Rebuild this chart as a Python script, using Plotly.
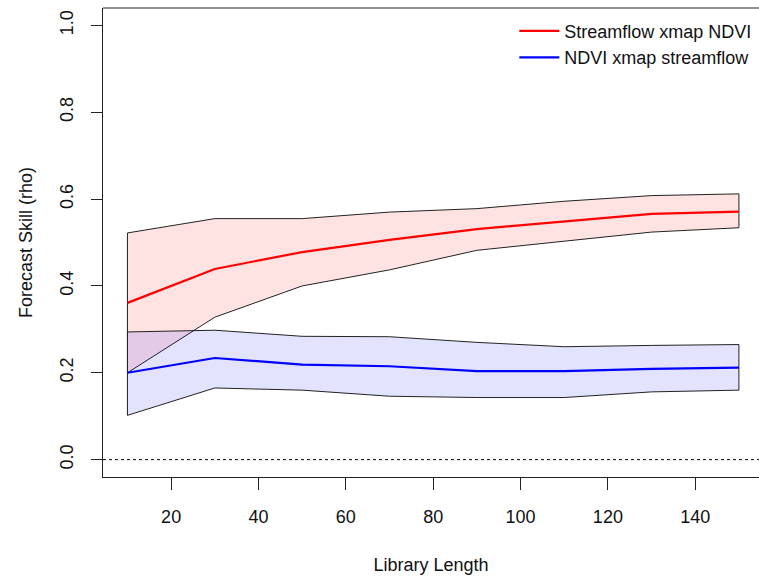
import plotly.graph_objects as go

lib_size = [10, 30, 50, 70, 90, 110, 130, 150]
sf_mean = [0.361, 0.439, 0.478, 0.506, 0.531, 0.549, 0.566, 0.571]
sf_upper = [0.522, 0.555, 0.555, 0.570, 0.578, 0.595, 0.608, 0.612]
sf_lower = [0.200, 0.328, 0.400, 0.437, 0.482, 0.503, 0.524, 0.534]
nd_mean = [0.200, 0.234, 0.219, 0.215, 0.204, 0.204, 0.209, 0.212]
nd_upper = [0.294, 0.298, 0.284, 0.283, 0.270, 0.260, 0.263, 0.265]
nd_lower = [0.102, 0.165, 0.160, 0.146, 0.143, 0.143, 0.156, 0.160]

x_ticks = [20, 40, 60, 80, 100, 120, 140]
y_ticks = [0.0, 0.2, 0.4, 0.6, 0.8, 1.0]
y_labels = ["0.0", "0.2", "0.4", "0.6", "0.8", "1.0"]

FONT = "Liberation Sans, Arial, sans-serif"


def band(upper, lower):
    xs = lib_size + lib_size[::-1] + [lib_size[0]]
    ys = upper + lower[::-1] + [upper[0]]
    return xs, ys


fig = go.Figure()
for up, lo, fc in [(sf_upper, sf_lower, "rgba(255,0,0,0.11)"),
                   (nd_upper, nd_lower, "rgba(0,0,255,0.11)")]:
    bx, by = band(up, lo)
    fig.add_trace(go.Scatter(x=bx, y=by, mode="lines", fill="toself",
                             fillcolor=fc, line=dict(color="#222222", width=1),
                             showlegend=False, hoverinfo="skip"))

fig.add_trace(go.Scatter(x=lib_size, y=sf_mean, mode="lines",
                         name="Streamflow xmap NDVI",
                         line=dict(color="#ff0000", width=2.2)))
fig.add_trace(go.Scatter(x=lib_size, y=nd_mean, mode="lines",
                         name="NDVI xmap streamflow",
                         line=dict(color="#0000ff", width=2.2)))

# dotted zero line
fig.add_shape(type="line", xref="paper", yref="y", x0=0, x1=1, y0=0, y1=0,
              line=dict(color="black", width=1, dash="dot"))
# top border of the box
fig.add_shape(type="line", xref="paper", yref="paper", x0=0, x1=1, y0=1, y1=1,
              line=dict(color="#222222", width=1))

fig.update_layout(
    width=759, height=580,
    margin=dict(l=103, r=0, t=8, b=103),
    paper_bgcolor="white", plot_bgcolor="white",
    font=dict(family=FONT, size=18, color="#111111"),
    showlegend=True,
    legend=dict(x=0.627, y=0.99, xanchor="left", yanchor="top",
                bgcolor="rgba(0,0,0,0)", font=dict(size=18),
                itemwidth=40, tracegroupgap=0),
    xaxis=dict(range=[4.4, 154.6], tickvals=x_ticks, ticks="outside",
               ticklen=12, tickcolor="#222222", showgrid=False,
               zeroline=False, showline=True, linecolor="#222222",
               linewidth=1, ticklabelstandoff=11,
               tickfont=dict(size=18),
               title=dict(text="Library Length", standoff=32,
                          font=dict(size=18))),
    yaxis=dict(range=[-0.04, 1.04], tickvals=y_ticks, ticktext=y_labels,
               ticks="outside", ticklen=11, tickcolor="#222222",
               tickangle=-90, showgrid=False, zeroline=False,
               showline=True, linecolor="#222222", linewidth=1,
               ticklabelstandoff=11, tickfont=dict(size=18),
               title=dict(text="Forecast Skill (rho)", standoff=19,
                          font=dict(size=18))),
)

fig.write_html("out.html")
